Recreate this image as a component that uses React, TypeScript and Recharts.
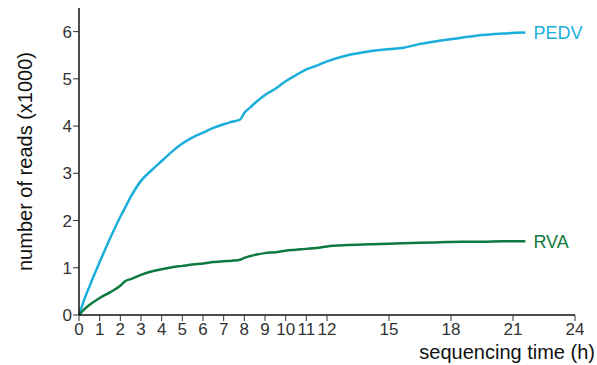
import { LineChart, Line, XAxis, YAxis, Label, LabelList } from 'recharts';

const hours = [0, 0.25, 0.5, 1, 1.5, 2, 2.25, 2.5, 3, 3.5, 4, 4.5, 5, 5.5, 6, 6.5, 7, 7.4, 7.8, 8, 8.3, 8.6, 9, 9.5, 10, 10.5, 11, 11.5, 12, 13, 14, 15, 15.7, 16.5, 17.5, 18.5, 19.5, 20.5, 21.6];
const pedv = [0, 0.32, 0.6, 1.12, 1.62, 2.08, 2.29, 2.5, 2.84, 3.06, 3.26, 3.46, 3.63, 3.76, 3.86, 3.96, 4.04, 4.09, 4.14, 4.28, 4.4, 4.52, 4.66, 4.79, 4.95, 5.08, 5.2, 5.28, 5.37, 5.5, 5.58, 5.63, 5.66, 5.74, 5.81, 5.87, 5.93, 5.96, 5.98];
const rva = [0, 0.12, 0.21, 0.36, 0.48, 0.62, 0.72, 0.76, 0.85, 0.92, 0.97, 1.01, 1.04, 1.07, 1.09, 1.12, 1.14, 1.15, 1.17, 1.21, 1.25, 1.28, 1.31, 1.33, 1.36, 1.38, 1.4, 1.42, 1.45, 1.48, 1.5, 1.51, 1.52, 1.53, 1.54, 1.55, 1.55, 1.56, 1.56];
const xTicks = [0, 1, 2, 3, 4, 5, 6, 7, 8, 9, 10, 11, 12, 15, 18, 21, 24];
const yTicks = [0, 1, 2, 3, 4, 5, 6];

const data = hours.map((h, i) => ({ h, PEDV: pedv[i], RVA: rva[i] }));

const font = '"Liberation Sans", Arial, Helvetica, sans-serif';
const tickStyle = { fontSize: 17, fill: '#333', fontFamily: font };

const endLabel = (name: string, color: string) => (props: any) => {
  if (props.index !== data.length - 1) return <g />;
  return (
    <text x={props.x + 8} y={props.y} dy="0.35em" fontSize={18} fill={color} fontFamily={font}>
      {name}
    </text>
  );
};

export default function App() {
  return (
    <div>
      <style>{'body{margin:0}'}</style>
      <LineChart width={597} height={365} data={data} margin={{ top: 8, right: 22, bottom: 0, left: 0 }}>
        <XAxis
          dataKey="h"
          type="number"
          domain={[0, 24]}
          ticks={xTicks}
          interval={0}
          height={50}
          tickSize={6}
          tick={tickStyle}
          axisLine={{ stroke: '#111', strokeWidth: 1.5 }}
          tickLine={{ stroke: '#333' }}
        >
          <Label
            content={(p: any) => (
              <text x={595} y={p.viewBox.y + 44} textAnchor="end" fontSize={20} fill="#111" fontFamily={font}>
                sequencing time (h)
              </text>
            )}
          />
        </XAxis>
        <YAxis
          type="number"
          domain={[0, 6.5]}
          ticks={yTicks}
          width={79}
          tickSize={6}
          tickMargin={1}
          tick={tickStyle}
          axisLine={{ stroke: '#111', strokeWidth: 1.5 }}
          tickLine={{ stroke: '#333' }}
        >
          <Label
            content={(p: any) => {
              const cy = p.viewBox.y + p.viewBox.height / 2;
              return (
                <text x={32} y={cy} transform={`rotate(-90 32 ${cy})`} textAnchor="middle" fontSize={20} fill="#111" fontFamily={font}>
                  number of reads (x1000)
                </text>
              );
            }}
          />
        </YAxis>
        <Line dataKey="PEDV" type="monotone" stroke="#1AAEDB" strokeWidth={2.5} dot={false} isAnimationActive={false}>
          <LabelList dataKey="PEDV" content={endLabel('PEDV', '#1AAEDB')} />
        </Line>
        <Line dataKey="RVA" type="monotone" stroke="#0E7A40" strokeWidth={2.5} dot={false} isAnimationActive={false}>
          <LabelList dataKey="RVA" content={endLabel('RVA', '#0E7A40')} />
        </Line>
      </LineChart>
    </div>
  );
}
